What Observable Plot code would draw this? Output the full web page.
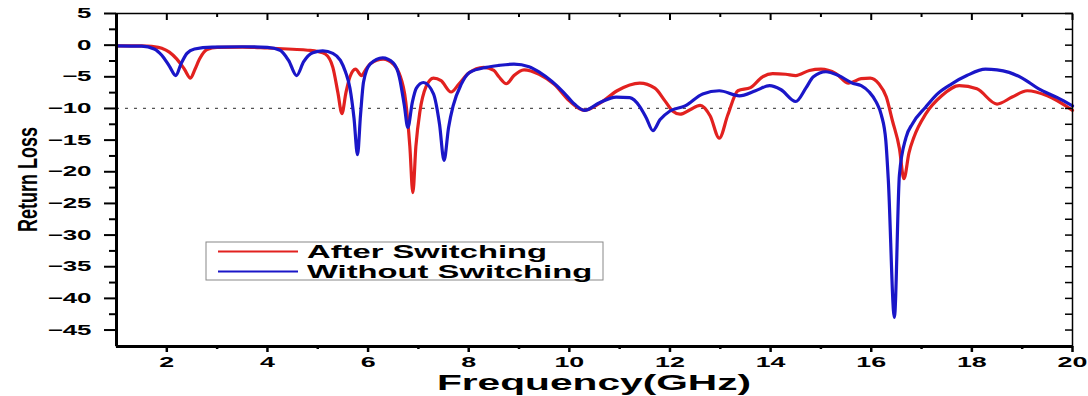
<!DOCTYPE html>
<html><head><meta charset="utf-8">
<script src="https://cdn.jsdelivr.net/npm/d3@7"></script>
<script src="https://cdn.jsdelivr.net/npm/@observablehq/plot@0.6"></script>
<style>body{margin:0;background:#fff}#chart{width:1088px;height:396px}</style>
</head><body><div id="chart"></div>
<script>
// ---- data ----
const afterFreq = [1.0,1.5,1.7,1.9,2.05,2.2,2.35,2.47,2.56,2.65,2.8,3.0,3.5,4.0,4.5,4.8,5.0,5.15,5.3,5.4,5.48,5.56,5.64,5.75,5.87,5.95,6.05,6.3,6.5,6.62,6.75,6.83,6.89,6.95,7.03,7.15,7.3,7.45,7.65,7.8,8.0,8.3,8.5,8.6,8.75,8.9,9.1,9.4,9.7,10.0,10.3,10.6,10.95,11.4,11.7,11.9,12.05,12.2,12.4,12.6,12.8,12.98,13.15,13.35,13.6,13.84,14.04,14.3,14.5,14.77,15.0,15.3,15.55,15.8,15.98,16.15,16.3,16.42,16.56,16.65,16.75,16.85,17.08,17.4,17.75,18.1,18.5,18.8,19.1,19.5,20.0];
const afterLoss = [-0.1,-0.1,-0.2,-0.5,-1.1,-2.2,-3.8,-5.2,-3.8,-2.2,-0.7,-0.35,-0.3,-0.45,-0.65,-0.8,-1.0,-1.4,-3.5,-7.5,-10.8,-7.5,-5.0,-3.8,-4.8,-3.9,-2.9,-2.2,-3.0,-4.5,-9.0,-16,-23.3,-16,-10.5,-6.6,-5.2,-5.6,-7.4,-6.2,-4.4,-3.5,-4.0,-5.0,-6.1,-4.8,-3.9,-4.6,-6.2,-8.8,-10.3,-9.2,-7.2,-6.0,-6.8,-8.8,-10.4,-10.9,-10.2,-9.5,-11.2,-14.7,-11,-7.2,-6.7,-5.0,-4.5,-4.6,-4.8,-4.0,-3.8,-4.5,-6.0,-5.3,-5.2,-6.1,-8.2,-11.9,-16.3,-21.1,-17,-14.5,-10.9,-8.0,-6.4,-6.9,-9.3,-8.2,-7.2,-8.0,-10.3];
const withoutFreq = [1.0,1.5,1.75,1.9,2.05,2.18,2.28,2.4,2.55,2.9,3.5,4.0,4.25,4.42,4.58,4.72,4.9,5.1,5.3,5.45,5.55,5.64,5.72,5.79,5.85,5.91,6.04,6.29,6.5,6.62,6.72,6.79,6.88,6.96,7.1,7.3,7.42,7.51,7.6,7.69,7.85,8.02,8.35,8.6,8.9,9.2,9.41,9.65,9.88,10.1,10.3,10.6,10.93,11.2,11.4,11.53,11.66,11.8,12.0,12.3,12.65,12.98,13.38,13.7,13.98,14.2,14.5,14.7,14.85,15.1,15.35,15.63,15.8,15.96,16.1,16.2,16.29,16.34,16.46,16.56,16.69,16.82,17.08,17.3,17.6,17.9,18.27,18.5,18.74,19.0,19.33,19.7,20.0];
const withoutLoss = [-0.1,-0.15,-0.6,-1.6,-3.3,-4.8,-3.0,-1.3,-0.6,-0.3,-0.25,-0.35,-0.8,-2.4,-4.8,-2.6,-1.2,-0.9,-1.3,-2.4,-4.2,-6.8,-11.5,-17.3,-11,-5.8,-3.0,-2.0,-2.8,-5.0,-9.5,-13.0,-9,-6.8,-5.9,-7.7,-12.5,-18.2,-13,-9.6,-6.2,-4.3,-3.5,-3.2,-3.0,-3.4,-4.3,-5.7,-7.4,-9.3,-10.3,-9.1,-8.2,-8.3,-9.7,-11.5,-13.5,-11.8,-10.4,-9.6,-7.7,-7.2,-8.0,-7.2,-6.4,-7.0,-8.9,-6.8,-5.0,-4.2,-4.8,-6.0,-6.4,-7.4,-9.0,-11.0,-15.1,-21.4,-43,-20.5,-14.6,-12.4,-9.8,-7.8,-6.1,-4.8,-3.8,-3.9,-4.3,-5.2,-6.9,-8.3,-9.6];
const seriesNames = ["After Switching", "Without Switching"];
const seriesColors = ["#e2211f", "#1a16c8"];
const xTicks = [2,4,6,8,10,12,14,16,18,20];
const xMinorTicks = [3,5,7,9,11,13,15,17,19];
const yTicks = [5,0,-5,-10,-15,-20,-25,-30,-35,-40,-45];
const yMinorTicks = [2.5,-2.5,-7.5,-12.5,-17.5,-22.5,-27.5,-32.5,-37.5,-42.5];
const xDomain = [1, 20];
const yDomain = [-47.6, 5];
const threshold = -10;
const xLabel = "Frequency(GHz)";
const yLabel = "Return Loss";

const rows = [
  ...afterFreq.map((f, i) => ({f, v: afterLoss[i], s: seriesNames[0]})),
  ...withoutFreq.map((f, i) => ({f, v: withoutLoss[i], s: seriesNames[1]}))
];
const W = 1088, H = 396, ML = 116, MR = 16, MT = 13, MB = 50;
const SX = 1.85; // horizontal stretch of the reference's lettering
const blank = () => "";

const chart = Plot.plot({
  width: W, height: H, marginLeft: ML, marginRight: MR, marginTop: MT, marginBottom: MB,
  style: {fontFamily: "'Liberation Sans', Arial, sans-serif", background: "#fff", color: "#000"},
  x: {domain: xDomain},
  y: {domain: yDomain},
  color: {domain: seriesNames, range: seriesColors},
  marks: [
    Plot.ruleY([threshold], {stroke: "#555", strokeWidth: 1.2, strokeDasharray: "3,6"}),
    Plot.line(rows, {x: "f", y: "v", z: "s", stroke: "s", strokeWidth: 3.2, curve: "monotone-x"}),
    Plot.frame({stroke: "#000", strokeWidth: 1.5}),
    Plot.ruleX([xDomain[0]], {stroke: "#000", strokeWidth: 3}),
    Plot.ruleY([yDomain[0]], {stroke: "#000", strokeWidth: 3}),
    Plot.axisY(yTicks, {anchor: "left", tickSize: 12, tickPadding: 13, fontSize: 14, fontWeight: "bold", strokeWidth: 2, label: null}),
    Plot.axisY(yMinorTicks, {anchor: "left", tickSize: 7, tickFormat: blank, strokeWidth: 2, label: null}),
    Plot.axisY([...yTicks, ...yMinorTicks], {anchor: "right", tickSize: -8, tickFormat: blank, strokeWidth: 1.5, label: null}),
    Plot.axisX(xTicks, {anchor: "bottom", tickSize: 6, tickPadding: 4, fontSize: 14.5, fontWeight: "bold", strokeWidth: 2.5, label: null}),
    Plot.axisX(xMinorTicks, {anchor: "bottom", tickSize: 3, tickFormat: blank, strokeWidth: 2.5, label: null}),
    Plot.axisX(xTicks, {anchor: "top", tickSize: -6, tickFormat: blank, strokeWidth: 2, label: null}),
    Plot.axisX(xMinorTicks, {anchor: "top", tickSize: -3, tickFormat: blank, strokeWidth: 2, label: null})
  ]
});
document.getElementById("chart").appendChild(chart);

const svg = d3.select(chart);
// stretch tick labels horizontally like the reference
svg.selectAll("text").each(function () {
  const t = d3.select(this);
  const tr = t.attr("transform") || "";
  t.attr("transform", tr + ` scale(${SX},1)`);
});
const ff = "'Liberation Sans', Arial, sans-serif";
// axis titles
svg.append("text").attr("transform", `translate(${(ML + W - MR) / 2},390) scale(${SX},1)`)
  .attr("text-anchor", "middle").attr("font-family", ff).attr("font-size", 22).attr("font-weight", "bold")
  .attr("fill", "#000").text(xLabel);
svg.append("text").attr("transform", `translate(37,${(MT + H - MB) / 2}) scale(${SX * 0.85},1) rotate(-90)`)
  .attr("text-anchor", "middle").attr("font-family", ff).attr("font-size", 18).attr("font-weight", "bold")
  .attr("fill", "#000").text(yLabel);
// legend
const lg = svg.append("g");
lg.append("rect").attr("x", 206).attr("y", 242).attr("width", 397).attr("height", 38)
  .attr("fill", "#fff").attr("stroke", "#888").attr("stroke-width", 1);
seriesNames.forEach((name, i) => {
  const y = 251.5 + i * 20;
  lg.append("line").attr("x1", 218).attr("x2", 298).attr("y1", y).attr("y2", y)
    .attr("stroke", seriesColors[i]).attr("stroke-width", 2);
  lg.append("text").attr("transform", `translate(307,${y + 6.5}) scale(${SX},1)`)
    .attr("text-anchor", "start")
    .attr("font-family", ff).attr("font-size", 17.7).attr("font-weight", "bold").attr("fill", "#000").text(name);
});
</script></body></html>
